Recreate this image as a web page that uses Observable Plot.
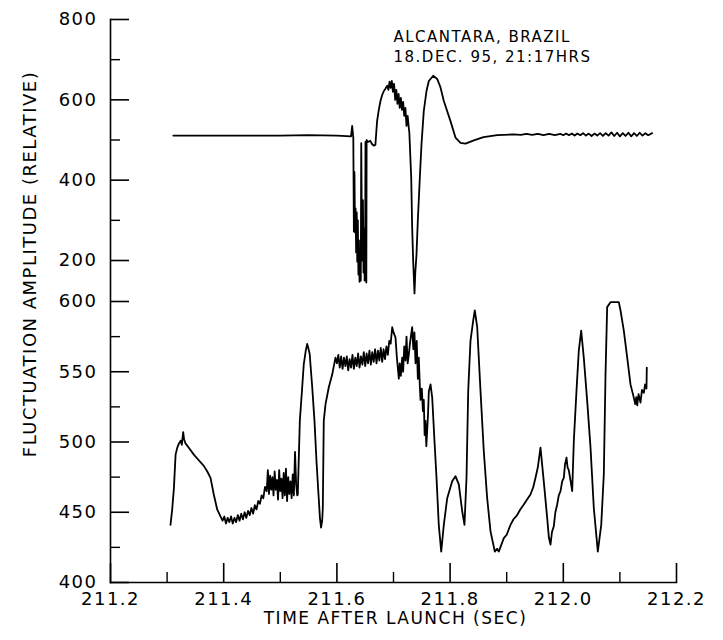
<!DOCTYPE html>
<html><head><meta charset="utf-8">
<script src="https://cdn.jsdelivr.net/npm/d3@7"></script>
<script src="https://cdn.jsdelivr.net/npm/@observablehq/plot@0.6"></script>
<style>
html,body{margin:0;padding:0;background:#fff;}
#chart{position:relative;width:723px;height:640px;}
#chart svg{position:absolute;left:0;top:0;overflow:visible;background:none;}
#chart svg text{letter-spacing:1.5px;}
</style></head><body><div id="chart"></div>
<script>
const xMajorTicks = [211.2, 211.4, 211.6, 211.8, 212.0, 212.2];
const xMinorTicks = [211.3, 211.5, 211.7, 211.9, 212.1];
const topMajorTicks = [200, 400, 600, 800];
const topMinorTicks = [300, 500, 700];
const bottomMajorTicks = [400, 450, 500, 550, 600];
const bottomMinorTicks = [425, 475, 525, 575];
const annotation = ["ALCANTARA, BRAZIL", "18.DEC. 95, 21:17HRS"];
const yTitle = "FLUCTUATION AMPLITUDE (RELATIVE)";
const xTitle = "TIME AFTER LAUNCH (SEC)";

// upper trace [time, amplitude]
const topTrace = [
[211.311,511],[211.35,511],[211.4,511],[211.45,511],[211.5,511],[211.55,512],[211.6,511],[211.625,509],
[211.627,535],[211.629,505],[211.630,272],[211.631,420],[211.632,270],[211.633,330],[211.634,220],[211.635,320],
[211.636,197],[211.637,300],[211.638,165],[211.639,250],[211.640,147],[211.641,200],[211.6422,150],[211.643,492],
[211.644,300],[211.645,200],[211.646,350],[211.647,170],[211.648,280],[211.649,150],[211.650,250],[211.6505,495],
[211.651,200],[211.652,145],[211.6525,500],[211.655,495],[211.659,498],[211.662,490],[211.665,486],[211.668,488],
[211.671,547],[211.674,575],[211.677,597],[211.680,612],[211.683,622],[211.686,628],[211.689,635],[211.691,625],
[211.693,645],[211.695,630],[211.697,647],[211.699,620],[211.701,640],[211.703,600],[211.705,625],[211.707,590],
[211.709,615],[211.711,580],[211.713,605],[211.715,575],[211.717,595],[211.719,560],[211.721,580],[211.723,535],
[211.725,560],[211.727,530],[211.728,518],[211.7313,406],[211.733,281],[211.7348,197],[211.7371,118],[211.7385,170],
[211.7406,214],[211.7429,297],[211.7465,406],[211.7495,490],[211.7535,572],[211.7583,622],[211.7624,647],[211.7701,660],
[211.7772,652],[211.783,631],[211.7889,597],[211.8007,547],[211.8095,506],[211.8184,493],[211.8272,491],[211.8419,499],
[211.859,507],[211.8832,512],[211.912,514],[211.925,513],[211.935,515],[211.945,513],[211.955,515],[211.965,512],
[211.975,515],[211.985,512],[211.995,515],[212.000,512],[212.005,516],[212.010,512],[212.015,516],[212.020,511],
[212.025,516],[212.030,512],[212.035,517],[212.040,511],[212.045,516],[212.050,510],[212.055,516],[212.060,511],
[212.065,517],[212.070,510],[212.075,517],[212.080,511],[212.085,519],[212.090,510],[212.095,518],[212.100,509],
[212.105,517],[212.110,510],[212.115,518],[212.120,509],[212.125,517],[212.130,510],[212.135,518],[212.140,511],
[212.145,517],[212.150,512],[212.157,517]
];

// lower trace [time, amplitude]
const bottomTrace = [
[211.306,441],[211.309,452],[211.312,467],[211.315,491],[211.318,496],[211.321,499],[211.324,501],[211.326,498],
[211.3284,507],[211.330,502],[211.3325,499],[211.340,495],[211.3472,491],[211.356,487],[211.3648,483],[211.371,479],
[211.3767,474.5],[211.3825,462.6],[211.3885,452],[211.3943,447],
[211.398,444],[211.401,447],[211.404,442],[211.407,446],[211.410,443],[211.413,447],[211.416,442],[211.419,446],
[211.422,443],[211.425,448],[211.428,444],[211.431,449],[211.434,445],[211.437,450],[211.440,446],[211.443,451],
[211.446,448],[211.449,453],[211.452,449],[211.455,455],[211.458,452],[211.461,458],[211.464,456],[211.467,462],
[211.470,460],[211.473,468],
[211.476,465],[211.478,480],[211.480,463],[211.482,476],[211.484,466],[211.486,475],[211.488,462],[211.490,479],
[211.492,466],[211.494,473],[211.496,459],[211.498,480],[211.500,465],[211.502,474],[211.504,460],[211.506,478],
[211.508,462],[211.510,481],[211.512,458],[211.514,475],[211.516,463],[211.518,472],[211.520,460],[211.522,477],
[211.524,462],[211.526,493],[211.528,470],[211.5299,462],[211.5309,462.6],
[211.5345,515],[211.5387,539],[211.5415,555.5],[211.5450,565],[211.5475,569.8],[211.5500,566],[211.5519,562.6],
[211.5564,539],[211.5604,515],[211.5640,486],[211.5675,462.6],[211.5700,446],[211.5720,439],[211.5740,444],
[211.5751,453],[211.5768,515],[211.5799,527],[211.5857,539],[211.5917,548],[211.5975,560],
[211.600,556],[211.6025,562],[211.605,553],[211.6075,561],[211.610,552],[211.6125,560],[211.615,554],[211.6175,561],
[211.620,551],[211.6225,559],[211.625,553],[211.6275,562],[211.630,552],[211.6325,560],[211.635,554],[211.6375,563],
[211.640,553],[211.6425,561],[211.645,555],[211.6475,564],[211.650,554],[211.6525,563],[211.655,556],[211.6575,565],
[211.660,555],[211.6625,564],[211.665,557],[211.6675,566],[211.670,556],[211.6725,565],[211.675,558],[211.6775,567],
[211.680,557],[211.6825,566],[211.685,559],[211.6875,568],[211.690,562],[211.6925,572],[211.695,570],
[211.6977,581.7],[211.700,578],[211.7035,574.5],[211.706,560],[211.7094,545],[211.711,556],[211.713,547],[211.7153,560],
[211.717,550],[211.719,568],[211.7212,558],[211.723,575],[211.725,556],[211.727,562],[211.729,570],[211.731,576],
[211.733,581.7],[211.735,566],[211.737,578],[211.7389,556],[211.741,572],[211.743,545],[211.7447,560],[211.7465,540],
[211.7477,530],[211.750,538],[211.7520,522],[211.7535,530],[211.7550,505],[211.7565,515],[211.758,497],[211.7595,508],
[211.761,520],[211.7624,536],[211.7654,541],[211.7684,531.6],[211.7724,500.7],[211.776,474.5],[211.780,441],[211.7843,422],
[211.7889,441],[211.7949,460],[211.8037,472],[211.8095,475.7],[211.8154,469.8],[211.8214,450.7],[211.8254,441],[211.8290,474.5],
[211.8320,536.4],[211.8360,572],[211.8408,586.4],[211.8436,593.6],[211.8479,581.7],[211.8537,536.4],[211.8595,493.6],[211.8655,460],
[211.8714,436.4],[211.8790,422],[211.883,424],[211.8860,422],
[211.8949,431.6],[211.900,434],[211.9067,441],[211.912,445],[211.9185,448],[211.924,452],[211.9302,455.5],[211.936,459],
[211.9420,462.6],[211.947,468],[211.9509,474.5],[211.955,482],[211.9597,496],[211.9655,472],[211.9715,446],[211.9745,432],
[211.9774,427],[211.980,436],[211.9832,440],[211.986,450],[211.9892,455.5],[211.992,462],[211.9951,465],[211.998,472],
[212.0009,474.5],[212.003,484],[212.0057,488.8],[212.0075,482],[212.0097,480],[212.013,472],[212.0157,465],[212.0186,500.7],
[212.0233,536.4],[212.0274,565],[212.0316,579.3],[212.0362,560],[212.0422,529.3],[212.0481,496],[212.0539,453],[212.0610,422],
[212.0670,441],[212.0716,477],[212.0746,548.3],[212.0775,596],[212.0834,599.5],[212.0981,599.5],[212.1011,593.6],[212.1069,579.3],
[212.1129,560],[212.1187,541],[212.1246,531.6],[212.127,527],[212.129,532],[212.1306,526],[212.133,534],[212.1364,528],
[212.139,537],[212.1423,535],[212.1445,541],[212.147,538],[212.1475,553]
];

const W = 723, H = 640, ML = 110, MR = 47, MB = 58;
const frameW = W - ML - MR;
const fmt = d3.format(".1f");
const baseStyle = {fontFamily: "'DejaVu Sans', sans-serif", fontSize: "18px", background: "none", color: "black"};

const topPlot = Plot.plot({
  width: W, height: H, marginLeft: ML, marginRight: MR, marginTop: 19, marginBottom: MB,
  x: {domain: [211.2, 212.2], axis: null},
  y: {domain: [200, 800], range: [260, 19]},
  style: baseStyle,
  marks: [
    Plot.frame({anchor: "left", stroke: "black", strokeWidth: 1.6}),
    Plot.tickY(topMajorTicks, {y: d => d, insetRight: frameW - 19, stroke: "black", strokeWidth: 1.6}),
    Plot.tickY(topMinorTicks, {y: d => d, insetRight: frameW - 10, stroke: "black", strokeWidth: 1.4}),
    Plot.axisY({ticks: topMajorTicks, tickSize: 0, tickPadding: 13, label: null}),
    Plot.line(topTrace, {x: d => d[0], y: d => d[1], stroke: "black", strokeWidth: 1.8}),
    Plot.text([annotation.join("\n")], {frameAnchor: "top-left", dx: 283, dy: 9, textAnchor: "start", lineAnchor: "top", fontSize: 15, lineHeight: 1.3}),
    Plot.text([yTitle], {frameAnchor: "left", dx: -80, dy: -37, rotate: -90, textAnchor: "middle", lineAnchor: "middle", fontSize: 18})
  ]
});

const bottomPlot = Plot.plot({
  width: W, height: H, marginLeft: ML, marginRight: MR, marginTop: 301, marginBottom: MB,
  x: {domain: [211.2, 212.2]},
  y: {domain: [400, 600]},
  style: baseStyle,
  marks: [
    Plot.frame({anchor: "bottom", stroke: "black", strokeWidth: 1.6}),
    Plot.tickY(bottomMajorTicks, {y: d => d, insetRight: frameW - 19, stroke: "black", strokeWidth: 1.6}),
    Plot.tickY(bottomMinorTicks, {y: d => d, insetRight: frameW - 10, stroke: "black", strokeWidth: 1.4}),
    Plot.tickX(xMajorTicks, {x: d => d, insetTop: 281 - 19, stroke: "black", strokeWidth: 1.6}),
    Plot.tickX(xMinorTicks, {x: d => d, insetTop: 281 - 10, stroke: "black", strokeWidth: 1.4}),
    Plot.axisY({ticks: bottomMajorTicks, tickSize: 0, tickPadding: 13, label: null}),
    Plot.axisX({ticks: xMajorTicks, tickSize: 0, tickPadding: 10, tickFormat: fmt, label: null}),
    Plot.line(bottomTrace, {x: d => d[0], y: d => d[1], stroke: "black", strokeWidth: 1.8}),
    Plot.text([xTitle], {frameAnchor: "bottom", dx: 2, dy: 41, textAnchor: "middle", lineAnchor: "bottom", fontSize: 17})
  ]
});

const chart = document.getElementById("chart");
chart.appendChild(bottomPlot);
chart.appendChild(topPlot);
</script></body></html>
